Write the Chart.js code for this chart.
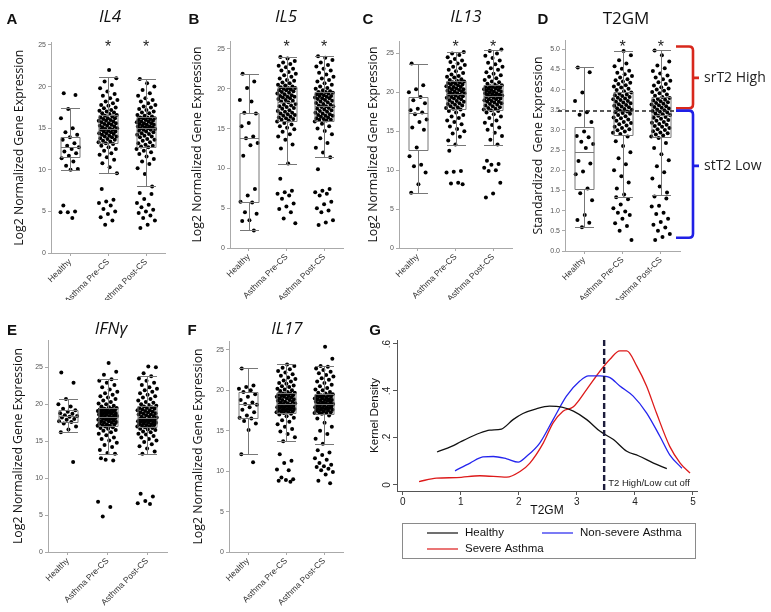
<!DOCTYPE html>
<html>
<head>
<meta charset="utf-8">
<script src="https://cdn.jsdelivr.net/npm/chart.js@4.4.1/dist/chart.umd.min.js"></script>
<style>
  body { margin: 0; background: #fff; }
  #fig { position: relative; width: 771px; height: 612px; overflow: hidden; background: #fff; }
  canvas { position: absolute; }
  .lbl { position: absolute; transform: translate(-50%, -50%); white-space: nowrap; line-height: 1; color: #111; }
  .letter { font: bold 15px Arial, "Liberation Sans", sans-serif; }
  .ttl { font: italic 17px "Open Sans", sans-serif; }
  .ttl.up { font-style: normal; }
</style>
</head>
<body>
<div id="fig">
  <canvas id="cA" width="185" height="300" style="left:0;top:0"></canvas>
  <canvas id="cB" width="180" height="300" style="left:185px;top:0"></canvas>
  <canvas id="cC" width="175" height="300" style="left:365px;top:0"></canvas>
  <canvas id="cD" width="244" height="300" style="left:527px;top:0"></canvas>
  <canvas id="cE" width="185" height="312" style="left:0;top:300px"></canvas>
  <canvas id="cF" width="180" height="312" style="left:185px;top:300px"></canvas>
  <canvas id="cG" width="406" height="312" style="left:365px;top:300px"></canvas>

  <div class="lbl letter" style="left:12px;top:18px">A</div>
  <div class="lbl letter" style="left:194px;top:18px">B</div>
  <div class="lbl letter" style="left:368px;top:18px">C</div>
  <div class="lbl letter" style="left:543px;top:18px">D</div>
  <div class="lbl letter" style="left:12px;top:329px">E</div>
  <div class="lbl letter" style="left:192px;top:329px">F</div>
  <div class="lbl letter" style="left:375px;top:329px">G</div>

  <div class="lbl ttl" style="left:110px;top:15px">IL4</div>
  <div class="lbl ttl" style="left:286px;top:15px">IL5</div>
  <div class="lbl ttl" style="left:466px;top:15px">IL13</div>
  <div class="lbl ttl up" style="left:626px;top:17px">T2GM</div>
  <div class="lbl ttl" style="left:111px;top:327px">IFNγ</div>
  <div class="lbl ttl" style="left:287px;top:327px">IL17</div>
</div>

<script>
// ---- data ----

const groups = ['Healthy', 'Asthma Pre-CS', 'Asthma Post-CS'];
const geneTicks = [0, 5, 10, 15, 20, 25];
const t2gmTicks = [0, 0.5, 1, 1.5, 2, 2.5, 3, 3.5, 4, 4.5, 5];

// box stats per group: [whisker low, q1, median, q3, whisker high]
const il4Box = [[10.0, 11.5, 12.8, 14.0, 17.4], [9.6, 13.2, 14.9, 16.6, 21.1], [8.0, 12.8, 15.0, 16.4, 20.9]];
const il4Healthy = [19.2, 19.0, 17.3, 16.2, 15.0, 14.5, 14.2, 13.9, 13.6, 13.2, 12.9, 12.7, 12.5, 12.2, 12.0, 11.7, 11.4, 11.0, 10.5, 10.1, 10.0, 5.7, 5.0, 4.9, 4.9, 4.2];
const il4Pre = [7.7, 6.4, 6.2, 6.0, 5.7, 5.3, 5.0, 4.7, 4.3, 3.9, 3.4,
  9.6, 10.3, 10.8, 11.2, 11.5, 11.8, 12.0, 12.3, 12.5, 12.7, 12.9, 13.1,
  13.2, 13.3, 13.4, 13.5, 13.6, 13.7, 13.8, 13.9, 14.0, 14.0, 14.1, 14.2, 14.3, 14.4, 14.4, 14.5, 14.6, 14.6, 14.7, 14.8, 14.8, 14.9,
  15.0, 15.0, 15.1, 15.2, 15.3, 15.3, 15.4, 15.5, 15.6, 15.6, 15.7, 15.8, 15.9, 15.9, 16.0, 16.1, 16.2, 16.2, 16.3, 16.4, 16.5, 16.6,
  16.7, 16.8, 16.9, 17.0, 17.1, 17.2, 17.4, 17.5, 17.7, 17.8, 18.0, 18.2, 18.4, 18.6, 18.9, 19.1, 19.4, 19.8, 20.2, 20.6, 21.0, 22.0];
const il4Post = [7.2, 7.1, 6.5, 6.0, 5.8, 5.5, 5.2, 5.0, 4.8, 4.5, 4.2, 3.9, 3.4, 3.0,
  8.0, 9.5, 10.2, 10.7, 11.0, 11.3, 11.6, 11.9, 12.1, 12.3, 12.5, 12.7,
  12.8, 12.9, 13.0, 13.2, 13.3, 13.5, 13.6, 13.7, 13.9, 14.0, 14.1, 14.2, 14.3, 14.4, 14.5, 14.6, 14.7, 14.8, 14.8, 14.9, 15.0, 15.0,
  15.1, 15.1, 15.2, 15.2, 15.3, 15.4, 15.4, 15.5, 15.6, 15.6, 15.7, 15.8, 15.8, 15.9, 16.0, 16.0, 16.1, 16.2, 16.2, 16.3, 16.3, 16.4,
  16.5, 16.6, 16.8, 16.9, 17.0, 17.2, 17.3, 17.5, 17.6, 17.8, 18.0, 18.2, 18.4, 18.6, 18.9, 19.2, 19.6, 20.0, 20.4, 20.9];

const il5Box = [[2.2, 5.8, 13.8, 16.9, 21.9], [10.6, 16.0, 18.3, 20.2, 24.0], [11.4, 16.0, 17.8, 19.6, 24.1]];
const il5Healthy = [21.9, 20.9, 20.1, 18.6, 18.4, 17.0, 16.9, 15.7, 15.3, 14.0, 13.8, 13.2, 12.9, 11.6, 7.4, 6.6, 5.8, 5.7, 4.5, 4.3, 3.5, 3.4, 2.2];
const il5Pre = [8.7, 7.2, 7.0, 6.8, 6.6, 6.2, 5.6, 5.2, 4.9, 4.5, 3.7, 3.1,
  10.6, 12.5, 13.0, 13.6, 14.0, 14.3, 14.6, 14.9, 15.1, 15.3, 15.5, 15.7, 15.9,
  16.0, 16.1, 16.2, 16.3, 16.4, 16.5, 16.6, 16.7, 16.8, 16.9, 17.0, 17.1, 17.2, 17.3, 17.5, 17.6, 17.7, 17.8, 17.9, 18.0, 18.1, 18.3,
  18.4, 18.5, 18.6, 18.7, 18.8, 18.9, 19.0, 19.0, 19.1, 19.2, 19.3, 19.4, 19.5, 19.6, 19.7, 19.8, 19.8, 19.9, 20.0, 20.1, 20.1, 20.2,
  20.3, 20.4, 20.5, 20.7, 20.8, 21.0, 21.1, 21.3, 21.5, 21.7, 21.9, 22.1, 22.3, 22.5, 22.7, 22.9, 23.1, 23.3, 23.5, 23.8, 24.0];
const il5Post = [9.9, 7.4, 7.2, 7.0, 6.8, 6.6, 5.8, 5.5, 5.0, 4.7, 4.5, 3.5, 3.2, 2.9,
  11.4, 12.0, 12.6, 13.2, 13.8, 14.3, 14.7, 15.0, 15.3, 15.6, 15.9,
  16.0, 16.1, 16.1, 16.2, 16.3, 16.4, 16.5, 16.6, 16.6, 16.7, 16.8, 16.9, 17.0, 17.1, 17.2, 17.3, 17.4, 17.5, 17.6, 17.7, 17.8, 17.8,
  17.9, 18.0, 18.1, 18.2, 18.3, 18.4, 18.5, 18.6, 18.7, 18.8, 18.8, 18.9, 19.0, 19.1, 19.1, 19.2, 19.3, 19.4, 19.4, 19.5, 19.6, 19.6,
  19.7, 19.8, 20.0, 20.1, 20.3, 20.5, 20.7, 20.9, 21.1, 21.3, 21.5, 21.8, 22.0, 22.3, 22.5, 22.8, 23.0, 23.3, 23.6, 23.9, 24.1];

const il13Box = [[7.1, 12.6, 17.4, 19.4, 23.7], [13.3, 17.9, 19.8, 21.4, 25.2], [13.3, 17.7, 19.5, 20.9, 25.5]];
const il13Healthy = [23.7, 20.9, 20.4, 20.0, 19.4, 19.0, 18.6, 17.9, 17.7, 17.4, 17.2, 16.5, 16.2, 15.5, 15.2, 12.9, 11.8, 10.7, 10.5, 9.7, 8.2, 7.1];
const il13Pre = [12.5, 9.9, 9.8, 9.7, 8.4, 8.3, 8.2,
  13.3, 13.8, 14.3, 14.7, 15.0, 15.3, 15.6, 15.9, 16.2, 16.4, 16.7, 16.9, 17.1, 17.4, 17.6, 17.8,
  17.9, 18.0, 18.1, 18.2, 18.3, 18.4, 18.5, 18.6, 18.7, 18.8, 18.9, 19.0, 19.1, 19.2, 19.3, 19.3, 19.4, 19.5, 19.6, 19.7, 19.7, 19.8,
  19.9, 19.9, 20.0, 20.1, 20.1, 20.2, 20.3, 20.4, 20.4, 20.5, 20.6, 20.7, 20.7, 20.8, 20.9, 21.0, 21.0, 21.1, 21.2, 21.3, 21.3, 21.4,
  21.5, 21.6, 21.7, 21.9, 22.0, 22.1, 22.3, 22.5, 22.7, 22.9, 23.1, 23.3, 23.5, 23.7, 23.9, 24.1, 24.3, 24.5, 24.8, 25.0, 25.2];
const il13Post = [11.2, 10.8, 10.7, 10.3, 10.0, 9.9, 8.4, 7.0, 6.5,
  13.3, 13.9, 14.4, 14.8, 15.2, 15.5, 15.8, 16.1, 16.4, 16.7, 16.9, 17.2, 17.4, 17.6,
  17.7, 17.8, 17.9, 18.0, 18.1, 18.2, 18.3, 18.4, 18.5, 18.6, 18.7, 18.8, 18.8, 18.9, 19.0, 19.1, 19.1, 19.2, 19.3, 19.4, 19.4, 19.5,
  19.6, 19.6, 19.7, 19.7, 19.8, 19.9, 19.9, 20.0, 20.1, 20.1, 20.2, 20.3, 20.3, 20.4, 20.5, 20.5, 20.6, 20.7, 20.7, 20.8, 20.8, 20.9,
  21.0, 21.1, 21.3, 21.4, 21.6, 21.8, 22.0, 22.2, 22.4, 22.6, 22.9, 23.1, 23.3, 23.6, 23.8, 24.1, 24.4, 24.7, 25.0, 25.3, 25.5];

const t2gmBox = [[0.59, 1.53, 2.45, 3.07, 4.55], [1.35, 2.88, 3.48, 3.93, 4.96], [1.39, 2.82, 3.37, 3.82, 4.97]];
const t2gmHealthy = [4.55, 4.43, 3.93, 3.72, 3.44, 3.38, 3.2, 2.96, 2.85, 2.82, 2.71, 2.65, 2.55, 2.23, 2.17, 1.97, 1.9, 1.55, 1.43, 1.26, 0.89, 0.77, 0.70, 0.59];
const t2gmPre = [1.33, 1.28, 1.15, 1.06, 0.98, 0.95, 0.89, 0.80, 0.69, 0.62, 0.5, 0.27,
  1.4, 1.55, 1.7, 1.85, 2.0, 2.15, 2.3, 2.45, 2.6, 2.72, 2.84,
  2.9, 2.93, 2.96, 2.99, 3.02, 3.05, 3.08, 3.11, 3.14, 3.17, 3.2, 3.23, 3.26, 3.29, 3.31, 3.34, 3.37, 3.4, 3.42, 3.44, 3.46, 3.48,
  3.5, 3.52, 3.54, 3.56, 3.58, 3.6, 3.62, 3.64, 3.66, 3.68, 3.7, 3.72, 3.74, 3.76, 3.78, 3.8, 3.82, 3.84, 3.86, 3.88, 3.9, 3.93,
  3.96, 3.99, 4.02, 4.05, 4.08, 4.11, 4.14, 4.17, 4.2, 4.23, 4.26, 4.3, 4.34, 4.38, 4.42, 4.47, 4.52, 4.58, 4.65, 4.73, 4.85, 4.96];
const t2gmPost = [1.35, 1.3, 1.12, 1.1, 0.95, 0.92, 0.8, 0.72, 0.65, 0.58, 0.5, 0.42, 0.35, 0.27,
  1.45, 1.6, 1.8, 1.95, 2.1, 2.25, 2.4, 2.55, 2.68, 2.8,
  2.84, 2.86, 2.89, 2.92, 2.94, 2.97, 3.0, 3.02, 3.05, 3.08, 3.1, 3.13, 3.15, 3.18, 3.2, 3.23, 3.25, 3.28, 3.3, 3.32, 3.35, 3.37,
  3.39, 3.41, 3.43, 3.45, 3.47, 3.49, 3.51, 3.53, 3.55, 3.57, 3.59, 3.61, 3.63, 3.65, 3.67, 3.69, 3.71, 3.73, 3.75, 3.77, 3.79, 3.82,
  3.85, 3.88, 3.91, 3.94, 3.97, 4.0, 4.03, 4.06, 4.1, 4.14, 4.18, 4.22, 4.26, 4.3, 4.35, 4.4, 4.46, 4.53, 4.6, 4.7, 4.85, 4.97];
const t2Cutoff = 3.47;
// [bottom, top, notch] of the side brackets
const bracketHigh = [3.54, 5.07, 4.29];
const bracketLow = [0.33, 3.48, 2.11];

const ifngBox = [[16.2, 17.6, 18.4, 19.2, 20.7], [13.3, 17.0, 18.3, 19.5, 23.4], [13.3, 16.9, 18.1, 19.8, 23.8]];
const ifngHealthy = [24.3, 22.9, 20.7, 20.0, 19.7, 19.4, 19.2, 19.0, 18.8, 18.7, 18.5, 18.4, 18.3, 18.2, 18.0, 17.9, 17.7, 17.6, 17.4, 17.0, 16.6, 16.2, 12.2];
const ifngPre = [12.7, 12.4, 12.5, 6.8, 6.1, 4.8,
  13.3, 13.4, 13.8, 14.2, 14.5, 14.8, 15.1, 15.3, 15.5, 15.8, 16.0, 16.2, 16.4, 16.5, 16.7, 16.8, 16.9,
  17.0, 17.1, 17.1, 17.2, 17.3, 17.3, 17.4, 17.5, 17.5, 17.6, 17.7, 17.7, 17.8, 17.9, 17.9, 18.0, 18.0, 18.1, 18.1, 18.2, 18.2, 18.3,
  18.4, 18.4, 18.5, 18.5, 18.6, 18.6, 18.7, 18.8, 18.8, 18.9, 18.9, 19.0, 19.0, 19.1, 19.1, 19.2, 19.2, 19.3, 19.3, 19.4, 19.4, 19.5,
  19.6, 19.7, 19.8, 20.0, 20.1, 20.3, 20.5, 20.7, 20.9, 21.1, 21.3, 21.5, 21.7, 22.0, 22.3, 22.6, 22.9, 23.2, 23.4, 24.0, 24.4, 25.6];
const ifngPost = [7.9, 7.5, 6.9, 6.6, 6.5,
  13.3, 13.6, 14.0, 14.3, 14.6, 14.9, 15.1, 15.3, 15.5, 15.7, 15.9, 16.0, 16.2, 16.3, 16.5, 16.6, 16.7, 16.8,
  16.9, 17.0, 17.0, 17.1, 17.2, 17.2, 17.3, 17.3, 17.4, 17.5, 17.5, 17.6, 17.6, 17.7, 17.7, 17.8, 17.8, 17.9, 17.9, 18.0, 18.0, 18.1,
  18.2, 18.3, 18.3, 18.4, 18.5, 18.6, 18.6, 18.7, 18.8, 18.9, 18.9, 19.0, 19.1, 19.2, 19.2, 19.3, 19.4, 19.5, 19.5, 19.6, 19.7, 19.8,
  19.9, 20.0, 20.2, 20.3, 20.5, 20.7, 20.9, 21.1, 21.3, 21.5, 21.7, 21.9, 22.1, 22.3, 22.6, 22.9, 23.2, 23.5, 23.8, 24.2, 25.0, 25.1];

const il17Box = [[12.1, 16.6, 18.3, 19.8, 22.7], [13.7, 17.2, 18.3, 19.7, 23.2], [13.4, 17.1, 18.3, 19.5, 23.0]];
const il17Healthy = [22.7, 20.6, 20.4, 20.2, 20.0, 19.8, 19.5, 19.2, 18.8, 18.5, 18.3, 18.2, 17.9, 17.6, 17.3, 16.9, 16.6, 16.5, 16.2, 15.9, 15.1, 12.1, 11.1];
const il17Pre = [12.1, 11.3, 11.0, 10.2, 10.1, 9.2, 9.0, 8.9, 8.8, 8.7,
  13.7, 14.2, 14.6, 14.9, 15.2, 15.5, 15.8, 16.1, 16.3, 16.6, 16.8, 17.0, 17.1,
  17.2, 17.3, 17.3, 17.4, 17.4, 17.5, 17.5, 17.6, 17.6, 17.7, 17.7, 17.8, 17.8, 17.9, 17.9, 18.0, 18.0, 18.1, 18.1, 18.2, 18.2, 18.3,
  18.4, 18.4, 18.5, 18.6, 18.6, 18.7, 18.8, 18.8, 18.9, 19.0, 19.0, 19.1, 19.2, 19.2, 19.3, 19.3, 19.4, 19.5, 19.5, 19.6, 19.6, 19.7,
  19.8, 19.9, 20.0, 20.1, 20.2, 20.4, 20.5, 20.6, 20.8, 20.9, 21.1, 21.2, 21.4, 21.6, 21.8, 22.0, 22.2, 22.4, 22.6, 22.8, 23.0, 23.2];
const il17Post = [12.6, 12.3, 12.0, 11.6, 11.4, 11.0, 10.8, 10.6, 10.5, 10.3, 10.1, 9.9, 9.6, 8.8, 8.5,
  13.4, 14.0, 14.6, 15.0, 15.5, 16.0, 16.5, 16.9,
  17.1, 17.2, 17.2, 17.3, 17.3, 17.4, 17.5, 17.5, 17.6, 17.6, 17.7, 17.7, 17.8, 17.8, 17.9, 17.9, 18.0, 18.0, 18.1, 18.1, 18.2, 18.3,
  18.3, 18.4, 18.4, 18.5, 18.5, 18.6, 18.7, 18.7, 18.8, 18.8, 18.9, 18.9, 19.0, 19.0, 19.1, 19.2, 19.2, 19.3, 19.3, 19.4, 19.4, 19.5,
  19.6, 19.7, 19.8, 20.0, 20.1, 20.3, 20.5, 20.7, 20.9, 21.1, 21.3, 21.5, 21.7, 21.9, 22.1, 22.3, 22.5, 22.7, 22.9, 23.0, 23.9, 25.4];

// panel G: kernel density of T2GM
const densityTicksX = [0, 1, 2, 3, 4, 5];
const densityTicksY = [0, 0.2, 0.4, 0.6];
const densityTickLabelsY = ['0', '.2', '.4', '.6'];
const healthyX = [0.59, 0.84, 1.01, 1.33, 1.5, 1.7, 1.9, 2.07, 2.3, 2.53, 2.74, 2.94, 3.17, 3.4, 3.63, 3.86, 4.06, 4.32, 4.55];
const healthyY = [0.140, 0.164, 0.185, 0.221, 0.233, 0.238, 0.278, 0.304, 0.324, 0.335, 0.331, 0.314, 0.278, 0.228, 0.193, 0.143, 0.124, 0.093, 0.069];
const nonSevereX = [0.9, 1.16, 1.38, 1.56, 1.79, 1.99, 2.13, 2.36, 2.59, 2.82, 3.05, 3.2, 3.4, 3.57, 3.74, 3.97, 4.2, 4.43, 4.6, 4.81];
const nonSevereY = [0.060, 0.093, 0.119, 0.121, 0.111, 0.097, 0.121, 0.178, 0.278, 0.378, 0.442, 0.464, 0.464, 0.457, 0.421, 0.378, 0.307, 0.207, 0.128, 0.071];
const severeX = [0.28, 0.58, 0.93, 1.33, 1.79, 2.02, 2.19, 2.42, 2.59, 2.76, 2.94, 3.17, 3.4, 3.57, 3.74, 3.86, 4.03, 4.2, 4.37, 4.6, 4.78, 4.95];
const severeY = [0.014, 0.029, 0.031, 0.039, 0.033, 0.057, 0.093, 0.178, 0.264, 0.314, 0.333, 0.407, 0.485, 0.535, 0.571, 0.571, 0.507, 0.421, 0.307, 0.164, 0.093, 0.050];

// ---- drawing ----

Chart.defaults.font.family = 'Arial, "Liberation Sans", sans-serif';

// spread points sideways so they don't stack (golden ratio sequence, no randomness)
const jitter = k => ((k * 0.618034 + 0.17) % 1 - 0.5) * 0.5;

function boxPlugin(stats, stars, extra) {
  return {
    id: 'boxes',
    afterDatasetsDraw(chart) {
      const { ctx, scales: { x, y } } = chart;
      ctx.save();
      ctx.strokeStyle = '#777';
      ctx.lineWidth = 1;
      const hw = 9.5;
      stats.forEach((s, i) => {
        const cx = Math.round(x.getPixelForValue(i + 1)) + 0.5;
        const [lo, q1, md, q3, hi] = s.map(v => Math.round(y.getPixelForValue(v)) + 0.5);
        ctx.beginPath();
        ctx.rect(cx - hw, q3, 2 * hw, q1 - q3);
        ctx.moveTo(cx - hw, md); ctx.lineTo(cx + hw, md);
        ctx.moveTo(cx, q1); ctx.lineTo(cx, lo);
        ctx.moveTo(cx, q3); ctx.lineTo(cx, hi);
        ctx.moveTo(cx - hw, lo); ctx.lineTo(cx + hw, lo);
        ctx.moveTo(cx - hw, hi); ctx.lineTo(cx + hw, hi);
        ctx.stroke();
      });
      if (stars) {
        ctx.fillStyle = '#222';
        ctx.font = '16px Arial';
        ctx.textAlign = 'center';
        ctx.textBaseline = 'alphabetic';
        stars.forEach((on, i) => {
          if (on) ctx.fillText('*', x.getPixelForValue(i + 1), 52);
        });
      }
      if (extra) extra(chart);
      ctx.restore();
    }
  };
}

function boxPanel(id, p) {
  const cv = document.getElementById(id);
  const W = cv.width, H = cv.height;
  const datasets = p.series.map((vals, gi) => ({
    data: vals.map((v, k) => ({ x: gi + 1 + jitter(k), y: v })),
    pointRadius: 2,
    pointBackgroundColor: '#000',
    pointBorderWidth: 0
  }));

  return new Chart(cv, {
    type: 'scatter',
    data: { datasets },
    options: {
      responsive: false,
      animation: false,
      events: [],
      layout: { padding: { left: 0, top: p.area.top, right: W - p.area.right, bottom: 0 } },
      plugins: { legend: { display: false }, tooltip: { enabled: false } },
      scales: {
        x: {
          type: 'linear', min: 0.5, max: 3.5,
          afterBuildTicks: s => { s.ticks = groups.map((g, i) => ({ value: i + 1 })); },
          afterFit: s => { s.height = H - p.area.bottom; },
          ticks: {
            callback: v => groups[Math.round(v) - 1],
            minRotation: 45, maxRotation: 45, autoSkip: false,
            font: { size: 8.5 }, color: '#333', padding: 1
          },
          grid: { drawOnChartArea: false, tickLength: 3, color: '#aaa' },
          border: { color: '#aaa' }
        },
        y: {
          min: 0, max: p.max,
          afterBuildTicks: s => { s.ticks = p.ticks.map(v => ({ value: v })); },
          afterFit: s => { s.width = p.area.left; },
          ticks: {
            callback: v => p.fmt ? p.fmt(v) : v,
            font: { size: 7 }, color: '#555', padding: 2
          },
          grid: { drawOnChartArea: false, tickLength: 3, color: '#aaa' },
          border: { color: '#aaa' },
          title: {
            display: true, text: p.yTitle, color: '#111',
            font: { family: '"Open Sans", sans-serif', size: 12.3 },
            padding: { top: p.titlePad, bottom: 0 }
          }
        }
      }
    },
    plugins: [boxPlugin(p.box, p.stars, p.extra)]
  });
}

function drawT2Marks(chart) {
  const { ctx, scales: { y }, chartArea } = chart;
  const yc = y.getPixelForValue(t2Cutoff);
  ctx.save();
  ctx.setLineDash([4, 3]);
  ctx.strokeStyle = '#222';
  ctx.lineWidth = 1.6;
  ctx.beginPath();
  ctx.moveTo(chartArea.left - 7, yc);
  ctx.lineTo(chartArea.right, yc);
  ctx.stroke();
  ctx.setLineDash([]);

  const bx = chartArea.right + 13;
  [[bracketHigh, '#d8281c', 'srT2 High'], [bracketLow, '#2020e6', 'stT2 Low']].forEach(([r, col, txt]) => {
    const y0 = y.getPixelForValue(r[0]), y1 = y.getPixelForValue(r[1]), ym = y.getPixelForValue(r[2]);
    ctx.strokeStyle = col;
    ctx.lineWidth = 2.6;
    ctx.beginPath();
    ctx.moveTo(bx - 17, y1); ctx.lineTo(bx - 4, y1);
    ctx.quadraticCurveTo(bx, y1, bx, y1 + 4);
    ctx.lineTo(bx, y0 - 4);
    ctx.quadraticCurveTo(bx, y0, bx - 4, y0);
    ctx.lineTo(bx - 17, y0);
    ctx.moveTo(bx, ym); ctx.lineTo(bx + 6, ym);
    ctx.stroke();
    ctx.fillStyle = '#222';
    ctx.font = '14px "Open Sans", sans-serif';
    ctx.textAlign = 'left';
    ctx.textBaseline = 'middle';
    ctx.fillText(txt, bx + 11, ym);
  });
  ctx.restore();
}

const geneTitle = 'Log2 Normalized Gene Expression';
const topStars = [false, true, true];

boxPanel('cA', { series: [il4Healthy, il4Pre, il4Post], box: il4Box, stars: topStars,
  area: { left: 51, right: 165, top: 42.5, bottom: 253 }, max: 25.3, ticks: geneTicks, yTitle: geneTitle, titlePad: 12 });
boxPanel('cB', { series: [il5Healthy, il5Pre, il5Post], box: il5Box, stars: topStars,
  area: { left: 45, right: 158, top: 41, bottom: 248 }, max: 26, ticks: geneTicks, yTitle: geneTitle, titlePad: 5 });
boxPanel('cC', { series: [il13Healthy, il13Pre, il13Post], box: il13Box, stars: topStars,
  area: { left: 34, right: 147, top: 41, bottom: 248 }, max: 26.6, ticks: geneTicks, yTitle: geneTitle, titlePad: 1 });
boxPanel('cD', { series: [t2gmHealthy, t2gmPre, t2gmPost], box: t2gmBox, stars: topStars, extra: drawT2Marks,
  area: { left: 38, right: 153, top: 40, bottom: 251 }, max: 5.23, ticks: t2gmTicks, fmt: v => v.toFixed(1),
  yTitle: 'Standardized  Gene Expression', titlePad: 4 });
boxPanel('cE', { series: [ifngHealthy, ifngPre, ifngPost], box: ifngBox,
  area: { left: 48, right: 167, top: 40, bottom: 252 }, max: 28.7, ticks: geneTicks, yTitle: geneTitle, titlePad: 11 });
boxPanel('cF', { series: [il17Healthy, il17Pre, il17Post], box: il17Box,
  area: { left: 44, right: 158, top: 41, bottom: 252 }, max: 26.1, ticks: geneTicks, yTitle: geneTitle, titlePad: 6 });

// panel G
const densityPlugin = {
  id: 'densityExtras',
  afterDatasetsDraw(chart) {
    const { ctx, scales: { x, y }, chartArea } = chart;
    ctx.save();
    // rotated y tick labels
    ctx.fillStyle = '#222';
    ctx.font = '10px Arial';
    ctx.textAlign = 'center';
    ctx.textBaseline = 'middle';
    densityTicksY.forEach((v, i) => {
      ctx.save();
      ctx.translate(chartArea.left - 10, y.getPixelForValue(v));
      ctx.rotate(-Math.PI / 2);
      ctx.fillText(densityTickLabelsY[i], 0, 0);
      ctx.restore();
    });
    // cut off line
    const cx = x.getPixelForValue(t2Cutoff);
    ctx.strokeStyle = '#1c1c3c';
    ctx.lineWidth = 2.4;
    ctx.setLineDash([6, 3]);
    ctx.beginPath();
    ctx.moveTo(cx, chartArea.top);
    ctx.lineTo(cx, chartArea.bottom);
    ctx.stroke();
    ctx.setLineDash([]);
    ctx.font = '9.5px Arial';
    ctx.textAlign = 'left';
    ctx.fillText('T2 High/Low cut off', cx + 4, chartArea.bottom - 8);

    // legend box
    ctx.strokeStyle = '#8a8a8a';
    ctx.lineWidth = 1;
    ctx.strokeRect(37.5, 223.5, 293, 35);
    const slots = [[62, 233], [177, 233], [62, 249]];
    ctx.font = '11.5px Arial';
    ctx.fillStyle = '#111';
    chart.data.datasets.forEach((ds, i) => {
      const [lx, ly] = slots[i];
      ctx.strokeStyle = ds.borderColor;
      ctx.lineWidth = 1.2;
      ctx.beginPath();
      ctx.moveTo(lx, ly); ctx.lineTo(lx + 31, ly);
      ctx.stroke();
      ctx.fillText(ds.label, lx + 38, ly);
    });
    ctx.restore();
  }
};

const curve = (xs, ys) => xs.map((v, i) => ({ x: v, y: ys[i] }));

new Chart(document.getElementById('cG'), {
  type: 'line',
  data: {
    datasets: [
      { label: 'Healthy', data: curve(healthyX, healthyY), borderColor: '#111' },
      { label: 'Non-severe Asthma', data: curve(nonSevereX, nonSevereY), borderColor: '#2424ee' },
      { label: 'Severe Asthma', data: curve(severeX, severeY), borderColor: '#dd1a1a' }
    ]
  },
  options: {
    responsive: false,
    animation: false,
    events: [],
    datasets: { line: { pointRadius: 0, borderWidth: 1.3, cubicInterpolationMode: 'monotone', fill: false } },
    layout: { padding: { left: 0, top: 40, right: 74, bottom: 93 } },
    plugins: { legend: { display: false }, tooltip: { enabled: false } },
    scales: {
      x: {
        type: 'linear', min: -0.1, max: 5.07,
        afterBuildTicks: s => { s.ticks = densityTicksX.map(v => ({ value: v })); },
        afterFit: s => { s.height = 28; },
        ticks: { font: { size: 10 }, color: '#222', padding: 1 },
        grid: { drawOnChartArea: false, tickLength: 4, color: '#555' },
        border: { color: '#555' },
        title: { display: true, text: 'T2GM', color: '#111', font: { size: 12 }, padding: { top: 0, bottom: 1 } }
      },
      y: {
        min: -0.026, max: 0.617,
        afterBuildTicks: s => { s.ticks = densityTicksY.map(v => ({ value: v })); },
        afterFit: s => { s.width = 32; },
        ticks: { display: false },
        grid: { drawOnChartArea: false, tickLength: 4, color: '#555' },
        border: { color: '#555' },
        title: { display: true, text: 'Kernel Density', color: '#111', font: { size: 11.5 }, padding: { top: 3, bottom: 0 } }
      }
    }
  },
  plugins: [densityPlugin]
});
</script>
</body>
</html>
